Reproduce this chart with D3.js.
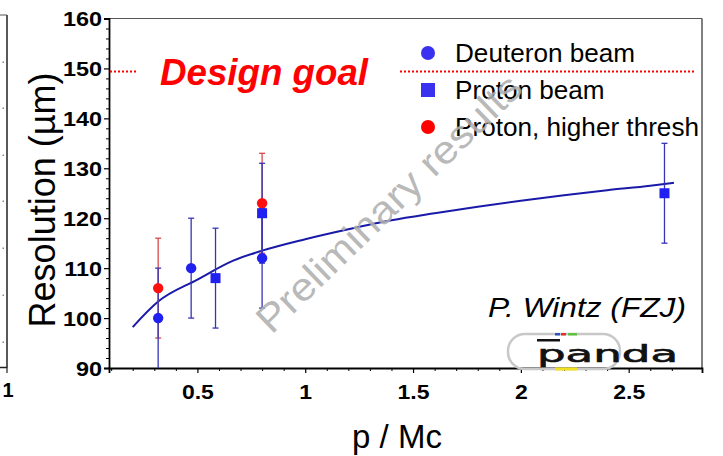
<!DOCTYPE html>
<html>
<head>
<meta charset="utf-8">
<script src="https://cdn.jsdelivr.net/npm/d3@7"></script>
<style>
  html, body { margin: 0; padding: 0; background: #fff; }
  svg { display: block; font-family: "Liberation Sans", Arial, sans-serif; }
</style>
</head>
<body>
<svg id="chart" width="723" height="456"></svg>
<script>
// ---- data ----
const xTicks = [0.5, 1, 1.5, 2, 2.5];
const xTickLabels = ["0.5", "1", "1.5", "2", "2.5"];
const yTicks = [90, 100, 110, 120, 130, 140, 150, 160];
const yTickLabels = ["90", "100", "110", "120", "130", "140", "150", "160"];

const deuteronX = [0.318, 0.471, 0.8];
const deuteronY = [100, 110, 112];
const deuteronErr = [10, 10, 10];

const protonX = [0.584, 0.8, 2.666];
const protonY = [108, 121, 125];
const protonErr = [10, 10, 10];

const protonHiX = [0.318, 0.8];
const protonHiY = [106, 123];
const protonHiErr = [10, 10];

const fitX = [0.2, 0.318, 0.5, 0.666, 0.8, 1.0, 1.2, 1.4, 1.6, 1.8, 2.0, 2.2, 2.4, 2.6, 2.71];
const fitY = [98.2, 103.3, 107.7, 111.5, 113.5, 115.8, 117.8, 119.6, 121.0, 122.3, 123.5, 124.6, 125.6, 126.5, 127.1];

const designGoal = 149.4;
const legendLabels = ["Deuteron beam", "Proton beam", "Proton, higher thresh"];

// ---- layout ----
const svg = d3.select("#chart");
const L = 109, R = 702, T = 18.5, B = 368;
const x = d3.scaleLinear().domain([0.09, 2.84]).range([L, R]);
const y = d3.scaleLinear().domain([90, 160]).range([B, T]);

const blueMarker = "#2020f0";
const blueBar = "#3434b4";
const redMarker = "#ff1010";
const redBar = "#d84848";

// horizontal stretch of text (reference glyphs are wider than the font)
function stretch(sel, f) {
  sel.each(function () {
    const len = this.getComputedTextLength();
    d3.select(this).attr("textLength", len * f).attr("lengthAdjust", "spacingAndGlyphs");
  });
}

// partial neighbouring frame at far left
svg.append("line").attr("x1", 7).attr("x2", 7).attr("y1", 15).attr("y2", 368).attr("stroke", "#222").attr("stroke-width", 1.5);
svg.append("line").attr("x1", 0).attr("x2", 7).attr("y1", 15).attr("y2", 15).attr("stroke", "#555").attr("stroke-width", 1);
svg.append("line").attr("x1", 0).attr("x2", 7).attr("y1", 367.5).attr("y2", 367.5).attr("stroke", "#222").attr("stroke-width", 1.5);
svg.append("line").attr("x1", 7).attr("x2", 7).attr("y1", 368).attr("y2", 373).attr("stroke", "#222").attr("stroke-width", 1.2);
[62, 108, 155, 201, 248, 295, 342].forEach(v => {
  svg.append("rect").attr("x", 2.5).attr("y", v - 0.5).attr("width", 1.5).attr("height", 1.5).attr("fill", "#888");
});
svg.append("text").attr("x", 8).attr("y", 397).attr("text-anchor", "middle")
  .attr("font-size", 20).attr("font-weight", "bold").text("1");

// frame top/right
svg.append("line").attr("x1", L).attr("x2", R).attr("y1", T).attr("y2", T).attr("stroke", "#555").attr("stroke-width", 1.2);
svg.append("line").attr("x1", R).attr("x2", R).attr("y1", T).attr("y2", B).attr("stroke", "#555").attr("stroke-width", 1.5);

// y axis
const yAxis = d3.axisLeft(y).tickValues(yTicks).tickFormat((d, i) => yTickLabels[i]).tickSize(5).tickPadding(2);
const yg = svg.append("g").attr("transform", `translate(${L},0)`).call(yAxis);
yg.select(".domain").attr("stroke", "#000").attr("stroke-width", 1.8);
yg.selectAll(".tick line").attr("stroke", "#000").attr("stroke-width", 1.2);
yg.selectAll(".tick text").attr("font-size", 20).attr("font-weight", "bold").attr("fill", "#000")
  .attr("font-family", "Liberation Sans, Arial, sans-serif").attr("dy", "0.36em");
stretch(yg.selectAll(".tick text"), 1.17);
const yMinor = d3.axisLeft(y).tickValues(d3.range(92, 160, 2).filter(v => v % 10 !== 0)).tickSize(3).tickFormat("");
const ymg = svg.append("g").attr("transform", `translate(${L},0)`).call(yMinor);
ymg.select(".domain").remove();
ymg.selectAll(".tick line").attr("stroke", "#000").attr("stroke-width", 1);

// x axis
const xAxis = d3.axisBottom(x).tickValues(xTicks).tickFormat((d, i) => xTickLabels[i]).tickSize(5).tickPadding(12);
const xg = svg.append("g").attr("transform", `translate(0,${B})`).call(xAxis);
xg.select(".domain").attr("stroke", "#000").attr("stroke-width", 1.8);
xg.selectAll(".tick line").attr("stroke", "#000").attr("stroke-width", 1.2);
xg.selectAll(".tick text").attr("font-size", 20).attr("font-weight", "bold").attr("fill", "#000")
  .attr("font-family", "Liberation Sans, Arial, sans-serif");
stretch(xg.selectAll(".tick text"), 1.15);
const xMinor = d3.axisBottom(x).tickValues(d3.range(1, 28).map(v => v / 10).filter(v => Math.abs(v * 2 - Math.round(v * 2)) > 1e-6)).tickSize(3).tickFormat("");
const xmg = svg.append("g").attr("transform", `translate(0,${B})`).call(xMinor);
xmg.select(".domain").remove();
xmg.selectAll(".tick line").attr("stroke", "#000").attr("stroke-width", 1);

// axis titles
svg.append("text").attr("transform", "translate(55,200) rotate(-90)").attr("text-anchor", "middle")
  .attr("font-size", 36).attr("fill", "#000").text("Resolution (\u00b5m)");
svg.append("text").attr("x", 397).attr("y", 448).attr("text-anchor", "middle")
  .attr("font-size", 33).attr("fill", "#000").text("p / Mc");

// design goal
const dg = svg.append("g");
dg.append("line").attr("x1", L + 1).attr("x2", 137).attr("y1", y(designGoal)).attr("y2", y(designGoal))
  .attr("stroke", "#ff0000").attr("stroke-width", 2).attr("stroke-dasharray", "2,2");
dg.append("line").attr("x1", 400).attr("x2", 695).attr("y1", y(designGoal)).attr("y2", y(designGoal))
  .attr("stroke", "#ff0000").attr("stroke-width", 2).attr("stroke-dasharray", "2,2");
dg.append("text").attr("x", 160).attr("y", 85).attr("font-size", 36).attr("font-weight", "bold")
  .attr("font-style", "italic").attr("fill", "#ff0000").attr("textLength", 208)
  .attr("lengthAdjust", "spacingAndGlyphs").text("Design goal");

// fit curve
const fitData = fitX.map((v, i) => [v, fitY[i]]);
svg.append("path").datum(fitData)
  .attr("d", d3.line().x(d => x(d[0])).y(d => y(d[1])).curve(d3.curveMonotoneX))
  .attr("fill", "none").attr("stroke", "#1a1aa8").attr("stroke-width", 2);

// error bars
function errBars(xs, ys, es, color) {
  const g = svg.append("g");
  xs.forEach((xv, i) => {
    const lo = Math.max(ys[i] - es[i], 90), hi = ys[i] + es[i];
    g.append("line").attr("x1", x(xv)).attr("x2", x(xv)).attr("y1", y(lo)).attr("y2", y(hi))
      .attr("stroke", color).attr("stroke-width", 1.3);
    g.append("line").attr("x1", x(xv) - 3).attr("x2", x(xv) + 3).attr("y1", y(hi)).attr("y2", y(hi))
      .attr("stroke", color).attr("stroke-width", 1.3);
    if (ys[i] - es[i] > 90) {
      g.append("line").attr("x1", x(xv) - 3).attr("x2", x(xv) + 3).attr("y1", y(lo)).attr("y2", y(lo))
        .attr("stroke", color).attr("stroke-width", 1.3);
    }
  });
}
errBars(protonHiX, protonHiY, protonHiErr, redBar);
errBars(deuteronX, deuteronY, deuteronErr, blueBar);
errBars(protonX, protonY, protonErr, blueBar);

// markers
svg.append("g").selectAll("circle").data(protonHiX).join("circle")
  .attr("cx", d => x(d)).attr("cy", (d, i) => y(protonHiY[i])).attr("r", 5.2).attr("fill", redMarker);
svg.append("g").selectAll("rect").data(protonX).join("rect")
  .attr("x", d => x(d) - 5).attr("y", (d, i) => y(protonY[i]) - 5).attr("width", 10).attr("height", 10).attr("fill", blueMarker);
svg.append("g").selectAll("circle").data(deuteronX).join("circle")
  .attr("cx", d => x(d)).attr("cy", (d, i) => y(deuteronY[i])).attr("r", 5.2).attr("fill", blueMarker);

// legend
const lg = svg.append("g");
const legY = [53, 90, 127];
lg.append("circle").attr("cx", 428).attr("cy", legY[0]).attr("r", 7).attr("fill", "#3a30f0");
lg.append("rect").attr("x", 421).attr("y", legY[1] - 7).attr("width", 14).attr("height", 14).attr("fill", "#3a30f0");
lg.append("circle").attr("cx", 428).attr("cy", legY[2]).attr("r", 7).attr("fill", "#ff0000");
const legTexts = lg.selectAll("text.leg").data(legendLabels).join("text").attr("class", "leg")
  .attr("x", 455).attr("y", (d, i) => legY[i] + 9).attr("font-size", 25).attr("fill", "#000").text(d => d);
stretch(legTexts, 1.045);

// author
svg.append("text").attr("x", 686).attr("y", 317).attr("text-anchor", "end").attr("font-size", 27)
  .attr("font-style", "italic").attr("fill", "#000").attr("textLength", 198)
  .attr("lengthAdjust", "spacingAndGlyphs").text("P. Wintz (FZJ)");

// panda logo
const logo = svg.append("g");
logo.append("rect").attr("x", 508).attr("y", 334).attr("width", 112).attr("height", 35).attr("rx", 17)
  .attr("fill", "none").attr("stroke", "#c8c8c8").attr("stroke-width", 2.5);
logo.append("rect").attr("x", 555).attr("y", 333).attr("width", 5).attr("height", 2.5).attr("fill", "#3050c0");
logo.append("rect").attr("x", 561).attr("y", 333).attr("width", 5).attr("height", 2.5).attr("fill", "#e03030");
logo.append("rect").attr("x", 568).attr("y", 333).attr("width", 9).attr("height", 2.5).attr("fill", "#60c040");
logo.append("rect").attr("x", 555).attr("y", 367.5).attr("width", 22).attr("height", 3).attr("fill", "#f0e020");
logo.append("rect").attr("x", 537).attr("y", 339).attr("width", 23).attr("height", 2.5).attr("fill", "#111");
logo.append("text").attr("x", 537).attr("y", 362).attr("font-size", 23).attr("font-family", "DejaVu Sans")
  .attr("font-weight", "normal").attr("textLength", 141).attr("lengthAdjust", "spacingAndGlyphs")
  .attr("stroke", "#111").attr("stroke-width", 0.6)
  .attr("fill", "#111").text("panda");

// watermark
svg.append("text").attr("transform", "translate(398,213) rotate(-44)").attr("text-anchor", "middle")
  .attr("font-size", 39).attr("fill", "#b0b0b0").attr("fill-opacity", 0.9)
  .attr("textLength", 352).attr("lengthAdjust", "spacingAndGlyphs").text("Preliminary results");
</script>
</body>
</html>
